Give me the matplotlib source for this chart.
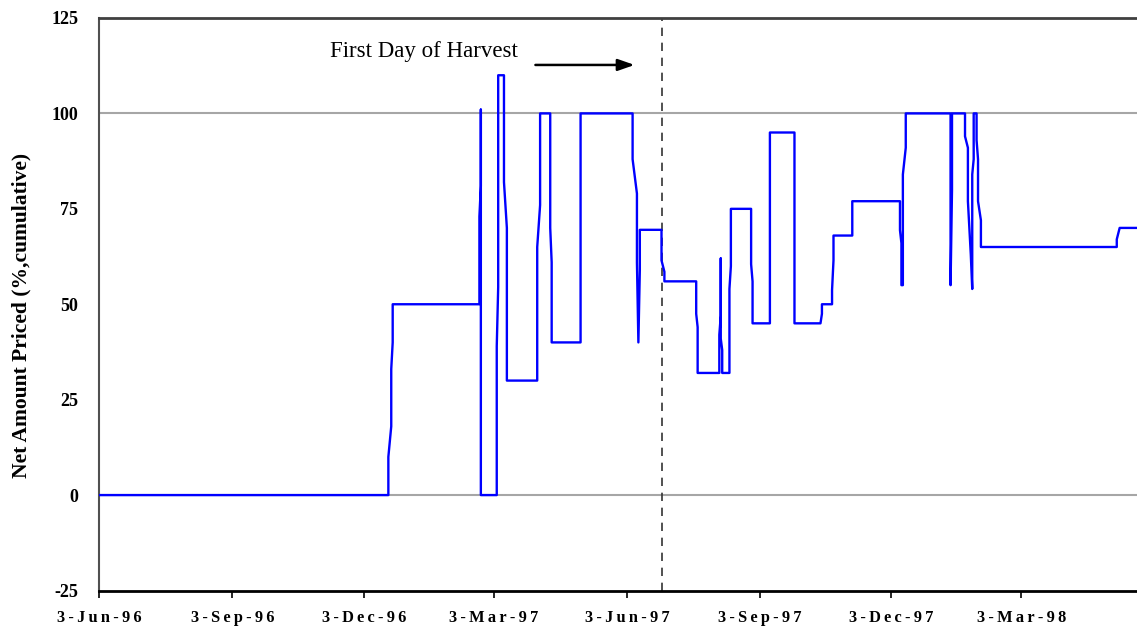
import datetime as dt
import matplotlib
matplotlib.use("Agg")
import matplotlib.pyplot as plt
import matplotlib.dates as mdates

# Net amount priced (%, cumulative)
dates = [
    "1996-06-03", "1996-12-20", "1996-12-20", "1996-12-22", "1996-12-22", "1996-12-23", "1996-12-23",
    "1997-02-21", "1997-02-21", "1997-02-22", "1997-02-22", "1997-02-22",
    "1997-03-05", "1997-03-05", "1997-03-06", "1997-03-06",
    "1997-03-10", "1997-03-10", "1997-03-12", "1997-03-12",
    "1997-04-02", "1997-04-02", "1997-04-04", "1997-04-04",
    "1997-04-11", "1997-04-11", "1997-04-12", "1997-04-12",
    "1997-05-02", "1997-05-02",
    "1997-06-07", "1997-06-07", "1997-06-10", "1997-06-10", "1997-06-11", "1997-06-12", "1997-06-12",
    "1997-06-27", "1997-06-27", "1997-06-29", "1997-06-29",
    "1997-07-21", "1997-07-21", "1997-07-22", "1997-07-22",
    "1997-08-06", "1997-08-06", "1997-08-07", "1997-08-07", "1997-08-07", "1997-08-08", "1997-08-08",
    "1997-08-13", "1997-08-13", "1997-08-14", "1997-08-14",
    "1997-08-28", "1997-08-28", "1997-08-29", "1997-08-29",
    "1997-09-10", "1997-09-10",
    "1997-09-27", "1997-09-27",
    "1997-10-15", "1997-10-16", "1997-10-16",
    "1997-10-23", "1997-10-23", "1997-10-24", "1997-10-24",
    "1997-11-06", "1997-11-06",
    "1997-12-09", "1997-12-09", "1997-12-10", "1997-12-10", "1997-12-11", "1997-12-11", "1997-12-13", "1997-12-13",
    "1998-01-13", "1998-01-13", "1998-01-14", "1998-01-14",
    "1998-01-23", "1998-01-23", "1998-01-25", "1998-01-25", "1998-01-27", "1998-01-28", "1998-01-28",
    "1998-01-29", "1998-01-29", "1998-01-31", "1998-01-31", "1998-02-01", "1998-02-01", "1998-02-03", "1998-02-03",
    "1998-05-08", "1998-05-08", "1998-05-10", "1998-05-22",
]
values = [
    0, 0, 10, 18, 33, 40, 50,
    50, 73, 81, 101, 0,
    0, 39, 54.5, 110,
    110, 82, 70, 30,
    30, 65, 76, 100,
    100, 70, 61, 40,
    40, 100,
    100, 88, 79, 61, 40, 59, 69.5,
    69.5, 61.5, 58.5, 56,
    56, 47.5, 44, 32,
    32, 42, 47, 62, 41, 38, 32,
    32, 54, 60, 75,
    75, 60.5, 56, 45,
    45, 95,
    95, 45,
    45, 47.5, 50,
    50, 53.7, 61.5, 68,
    68, 77,
    77, 69.4, 66, 55, 55, 84, 91, 100,
    100, 55, 80, 100,
    100, 94, 91, 77, 63, 54, 84,
    88, 100, 100, 93, 88, 77, 72, 65,
    65, 67, 70, 70,
]

harvest_day = "1997-06-27"
tick_dates = ["1996-06-03", "1996-09-03", "1996-12-03", "1997-03-03",
              "1997-06-03", "1997-09-03", "1997-12-03", "1998-03-03"]
tick_labels = ["3-Jun-96", "3-Sep-96", "3-Dec-96", "3-Mar-97",
               "3-Jun-97", "3-Sep-97", "3-Dec-97", "3-Mar-98"]
y_ticks = [-25, 0, 25, 50, 75, 100, 125]

serif = ["Liberation Serif", "DejaVu Serif"]
plt.rcParams["font.family"] = serif


def to_date(s):
    return dt.datetime.strptime(s, "%Y-%m-%d")


def spaced(s):
    # Excel-style wide letter spacing on the date labels
    return "\u2009".join(s)


x = [to_date(d) for d in dates]

fig = plt.figure(figsize=(11.37, 6.28), dpi=100)
ax = fig.add_axes([99.3 / 1137, (628 - 590.5) / 628, (1137 - 99.3) / 1137, (590.5 - 18) / 628])

for yv in (0, 100):
    ax.axhline(yv, color="#a6a6a6", lw=1.5, zorder=1)

ax.plot(x, values, color="#0000ff", lw=1.7, zorder=3)
ax.axvline(to_date(harvest_day), color="#333333", lw=1.2, ls=(0, (5, 4)), zorder=2)

ax.set_xlim(to_date("1996-06-03"), to_date("1998-05-22"))
ax.set_ylim(-25, 125)

ax.set_xticks([mdates.date2num(to_date(d)) for d in tick_dates])
ax.set_xticklabels([spaced(t) for t in tick_labels], fontweight="bold", fontsize=11.8)
ax.set_yticks(y_ticks)
ax.set_yticklabels([str(v) for v in y_ticks], fontweight="bold", fontsize=13)
ax.tick_params(axis="x", direction="out", length=5, width=1.2, color="black", pad=9)
ax.tick_params(axis="y", length=0, pad=15)

ax.spines["right"].set_visible(False)
ax.spines["top"].set_color("#404040")
ax.spines["top"].set_linewidth(2)
ax.spines["left"].set_color("#505050")
ax.spines["left"].set_linewidth(1.5)
ax.spines["bottom"].set_color("black")
ax.spines["bottom"].set_linewidth(2)

ax.set_ylabel("Net Amount Priced (%,cumulative)", fontweight="bold", fontsize=15.5)
ax.yaxis.set_label_coords(-0.065, 0.481)

ax.text(0.313, 0.941, "First Day of Harvest", transform=ax.transAxes,
        ha="center", va="center", fontsize=16.5)
ax.annotate("", xy=(0.5185, 0.918), xytext=(0.4176, 0.918),
            xycoords="axes fraction", textcoords="axes fraction",
            arrowprops=dict(arrowstyle="-|>,head_length=1.0,head_width=0.35", color="black", lw=1.8))

fig.savefig("out.png", dpi=100)
